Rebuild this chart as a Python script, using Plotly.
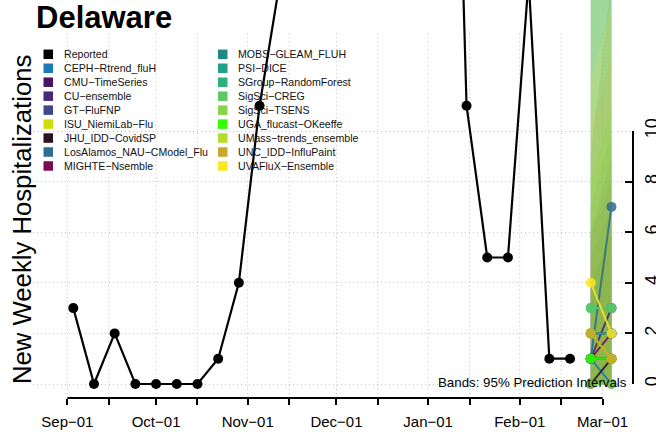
import plotly.graph_objects as go

# ---------------- data ----------------
reported_dates = [
    "2022-09-03", "2022-09-10", "2022-09-17", "2022-09-24",
    "2022-10-01", "2022-10-08", "2022-10-15", "2022-10-22", "2022-10-29",
    "2022-11-05", "2022-11-12", "2022-11-19", "2022-11-26",
    "2022-12-03", "2022-12-10", "2022-12-17", "2022-12-24", "2022-12-31",
    "2023-01-07", "2023-01-14", "2023-01-21", "2023-01-28",
    "2023-02-04", "2023-02-11", "2023-02-18",
]
reported_values = [3, 0, 2, 0, 0, 0, 0, 1, 4, 11, 16, 28, 45, 70, 72, 60, 50, 45,
                   40, 11, 5, 5, 16, 1, 1]

forecast_dates = ["2023-02-25", "2023-03-04"]

model_names = [
    "CEPH\u2212Rtrend_fluH", "CMU\u2212TimeSeries", "CU\u2212ensemble", "GT\u2212FluFNP",
    "ISU_NiemiLab\u2212Flu", "JHU_IDD\u2212CovidSP", "LosAlamos_NAU\u2212CModel_Flu",
    "MIGHTE\u2212Nsemble", "MOBS\u2212GLEAM_FLUH", "PSI\u2212DICE", "SGroup\u2212RandomForest",
    "SigSci\u2212CREG", "SigSci\u2212TSENS", "UGA_flucast\u2212OKeeffe",
    "UMass\u2212trends_ensemble", "UNC_IDD\u2212InfluPaint", "UVAFluX\u2212Ensemble",
]
model_colors = [
    "#1a7bb6", "#471563", "#482878", "#3e4989", "#d2dc0a", "#2d1123", "#2d6e8e",
    "#7a0a55", "#1f8a85", "#21a088", "#2db27d", "#5ec864", "#86d44b", "#33ff00",
    "#b4dc2d", "#c8a82a", "#fde725",
]
median_wk1 = [1, 1, 1, 2, 2, 0, 1, 1, 1, 2, 3, 3, 0, 1, 2, 2, 4]
median_wk2 = [0, 1, 3, 2, 1, 1, 7, 2, 1, 2, 3, 3, 0, 1, 1, 1, 2]
lower_wk1 = [0, 0, 0, 0, 0, 0, 0, 0, 0, 0, 0, 0, 0, 0, 0, 0, 0]
lower_wk2 = [0, 0, 0, 0, 0, 0, 0, 0, 0, 0, 0, 0, 0, 0, 0, 0, 0]
upper_wk1 = [4, 5, 6, 7, 5, 4, 9, 6, 20, 16, 18, 17, 19, 8, 16, 10, 12]
upper_wk2 = [5, 7, 9, 10, 6, 6, 16, 8, 28, 22, 24, 22, 26, 11, 20, 13, 15]

month_ticks = ["2022-09-01", "2022-10-01", "2022-11-01", "2022-12-01",
               "2023-01-01", "2023-02-01", "2023-03-01"]
month_labels = ["Sep\u221201", "Oct\u221201", "Nov\u221201", "Dec\u221201",
                "Jan\u221201", "Feb\u221201", "Mar\u221201"]
mid_ticks = ["2022-09-15", "2022-10-15", "2022-11-15", "2022-12-15",
             "2023-01-15", "2023-02-15"]
y_ticks = [0, 2, 4, 6, 8, 10]

# ---------------- layout constants ----------------
W, H = 656, 432
M_L, M_R, M_T, M_B = 33, 23, 0, 34
PLOT_W = W - M_L - M_R
PLOT_H = H - M_T - M_B
YMIN, YMAX = -0.553, 15.178
GRID_TOP = 14
X_RANGE = ["2022-08-20 09:00", "2023-03-11 07:00"]
FONT = "Liberation Sans, Arial, Helvetica, sans-serif"
GRID_COLOR = "#c4c4c4"
GRID_DASH = "1px,3px"


def fx(px):
    return (px - M_L) / PLOT_W


def fy(py):
    return (H - M_B - py) / PLOT_H


def rgba(hex_color, a):
    h = hex_color.lstrip("#")
    r, g, b = int(h[0:2], 16), int(h[2:4], 16), int(h[4:6], 16)
    return f"rgba({r},{g},{b},{a})"


fig = go.Figure()

# prediction-interval bands
for i, name in enumerate(model_names):
    fig.add_trace(go.Scatter(
        x=[forecast_dates[0], forecast_dates[1], forecast_dates[1], forecast_dates[0]],
        y=[lower_wk1[i], lower_wk2[i], upper_wk2[i], upper_wk1[i]],
        fill="toself", fillcolor=rgba(model_colors[i], 0.15),
        mode="lines", line=dict(width=0), hoverinfo="skip", showlegend=False,
    ))

# reported
fig.add_trace(go.Scatter(
    x=reported_dates, y=reported_values, mode="lines+markers",
    line=dict(color="black", width=2.2), marker=dict(color="black", size=10),
    showlegend=False, name="Reported",
))

# model medians
for i, name in enumerate(model_names):
    fig.add_trace(go.Scatter(
        x=forecast_dates, y=[median_wk1[i], median_wk2[i]], mode="lines+markers",
        line=dict(color=model_colors[i], width=2),
        marker=dict(color=model_colors[i], size=10),
        opacity=0.85, showlegend=False, name=name,
    ))

# dummy trace so the right-hand axis is drawn
fig.add_trace(go.Scatter(x=[None], y=[None], yaxis="y2", showlegend=False,
                         hoverinfo="skip"))

shapes = []
# vertical dotted grid
for d in month_ticks + mid_ticks:
    shapes.append(dict(type="line", xref="x", yref="y", x0=d, x1=d, y0=YMIN, y1=GRID_TOP,
                       line=dict(color=GRID_COLOR, width=1, dash=GRID_DASH), layer="below"))
# x axis line (first to last labelled tick)
shapes.append(dict(type="line", xref="x", yref="paper", x0=month_ticks[0], x1=month_ticks[-1],
                   y0=0, y1=0, line=dict(color="black", width=1.8)))

annotations = []
# legend
legend_names = ["Reported"] + model_names
legend_colors = ["#000000"] + model_colors
for k, (nm, col) in enumerate(zip(legend_names, legend_colors)):
    c = k // 9
    r = k % 9
    cy = 54.3 + r * 13.96
    bx = 43.5 if c == 0 else 218.0
    tx = 62.0 if c == 0 else 236.0
    shapes.append(dict(type="rect", xref="paper", yref="paper",
                       x0=fx(bx), x1=fx(bx + 9.5), y0=fy(cy + 4.75), y1=fy(cy - 4.75),
                       fillcolor=col, line=dict(width=0)))
    annotations.append(dict(text=nm, xref="paper", yref="paper", x=fx(tx), y=fy(cy),
                            xanchor="left", yanchor="middle", showarrow=False,
                            font=dict(size=10.6, color="#111111", family=FONT)))

annotations.append(dict(text="Delaware", xref="paper", yref="paper", x=fx(34), y=fy(18),
                        xanchor="left", yanchor="middle", showarrow=False,
                        font=dict(size=31, color="black", family=FONT, weight="bold")))
annotations.append(dict(text="New Weekly Hospitalizations", xref="paper", yref="paper",
                        x=fx(22), y=fy(220), xanchor="center", yanchor="middle",
                        textangle=-90, showarrow=False,
                        font=dict(size=25.7, color="black", family=FONT)))
annotations.append(dict(text="Bands: 95% Prediction Intervals", xref="paper", yref="paper",
                        x=fx(629), y=fy(382), xanchor="right", yanchor="middle",
                        showarrow=False, font=dict(size=13.3, color="black", family=FONT)))

d0 = (0 - YMIN) / (YMAX - YMIN)
d1 = (10 - YMIN) / (YMAX - YMIN)

fig.update_layout(
    width=W, height=H, autosize=False,
    margin=dict(l=M_L, r=M_R, t=M_T, b=M_B, pad=0, autoexpand=False),
    paper_bgcolor="white", plot_bgcolor="rgba(0,0,0,0)",
    font=dict(family=FONT, color="black"),
    showlegend=False,
    shapes=shapes, annotations=annotations,
    xaxis=dict(
        type="date", range=X_RANGE, showgrid=False, zeroline=False, showline=False,
        automargin=False,
        tickmode="array", tickvals=month_ticks, ticktext=month_labels,
        ticks="outside", ticklen=6, tickwidth=1.6, tickcolor="black",
        tickfont=dict(size=15, color="black", family=FONT), ticklabelstandoff=4,
        minor=dict(tickmode="array", tickvals=mid_ticks, ticks="outside", ticklen=6,
                   tickwidth=1.6, tickcolor="black", showgrid=False),
    ),
    yaxis=dict(
        range=[YMIN, YMAX], tickmode="array", tickvals=y_ticks, showticklabels=False,
        automargin=False,
        ticks="", showline=False, zeroline=False, showgrid=True,
        gridcolor=GRID_COLOR, griddash=GRID_DASH, gridwidth=1,
    ),
    yaxis2=dict(
        anchor="free", position=1, side="right", domain=[d0, d1], range=[0, 10],
        automargin=False,
        tickmode="array", tickvals=y_ticks, ticks="inside", ticklen=7, tickwidth=1.6,
        tickcolor="black", showline=True, linecolor="black", linewidth=1.8,
        showgrid=False, zeroline=False, tickangle=-90, ticklabelstandoff=2,
        tickfont=dict(size=18, color="black", family=FONT),
    ),
)

fig.write_html(
    "out.html",
    config={"displayModeBar": False},
    post_script="document.body.style.margin='0';document.body.style.overflow='hidden';",
)
